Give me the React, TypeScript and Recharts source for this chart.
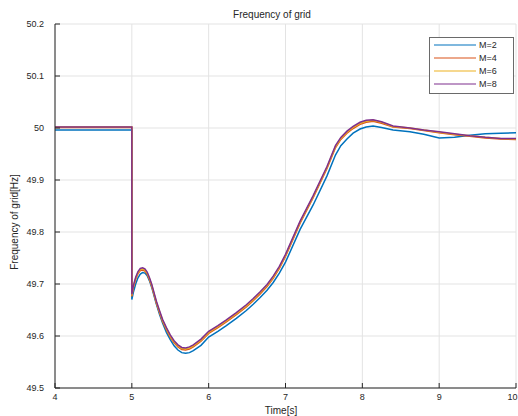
import React from 'react';
import {
  CartesianGrid,
  Customized,
  Line,
  LineChart,
  XAxis,
  YAxis,
} from 'recharts';

// time axis [s]; 5 appears twice for the step drop
const time = [
  4, 5, 5, 5.02, 5.05, 5.08, 5.11, 5.14, 5.17, 5.2, 5.23, 5.26, 5.29, 5.32, 5.36,
  5.4, 5.45, 5.5, 5.55, 5.6, 5.65, 5.7, 5.75, 5.8, 5.9, 6.0, 6.12, 6.23, 6.36, 6.49,
  6.58, 6.67, 6.76, 6.84, 6.92, 7.0, 7.19, 7.36, 7.54, 7.65, 7.72, 7.8, 7.88, 7.97,
  8.05, 8.14, 8.25, 8.4, 8.62, 8.8, 9.0, 9.2, 9.4, 9.6, 9.8, 10,
];

const m2 = [
  49.996, 49.996, 49.67, 49.684, 49.7, 49.712, 49.719, 49.722, 49.721, 49.716,
  49.706, 49.693, 49.677, 49.661, 49.642, 49.625, 49.607, 49.593, 49.581, 49.573,
  49.568, 49.567, 49.568, 49.572, 49.582, 49.598, 49.609, 49.62, 49.634, 49.649,
  49.661, 49.674, 49.688, 49.703, 49.721, 49.742, 49.805, 49.852, 49.908, 49.948,
  49.966, 49.979, 49.99, 49.998, 50.002, 50.004, 50.001, 49.996, 49.993, 49.988,
  49.981, 49.982, 49.986, 49.989, 49.99, 49.991,
];

const m4 = [
  50.001, 50.001, 49.676, 49.693, 49.709, 49.72, 49.726, 49.727, 49.725, 49.719,
  49.708, 49.695, 49.679, 49.663, 49.645, 49.628, 49.612, 49.598, 49.587, 49.579,
  49.574, 49.573, 49.575, 49.579, 49.59, 49.605, 49.616, 49.627, 49.641, 49.656,
  49.668, 49.681, 49.695, 49.711, 49.73, 49.753, 49.817, 49.866, 49.922, 49.962,
  49.978, 49.99, 49.999, 50.007, 50.011, 50.013, 50.009, 50.002, 49.999, 49.995,
  49.991, 49.987, 49.984, 49.981, 49.979, 49.978,
];

const m6 = [
  50.002, 50.002, 49.678, 49.695, 49.711, 49.722, 49.728, 49.729, 49.727, 49.721,
  49.71, 49.697, 49.681, 49.665, 49.647, 49.63, 49.614, 49.6, 49.589, 49.581,
  49.576, 49.575, 49.577, 49.581, 49.592, 49.607, 49.618, 49.629, 49.643, 49.658,
  49.67, 49.683, 49.697, 49.713, 49.732, 49.755, 49.819, 49.868, 49.924, 49.964,
  49.98, 49.992, 50.001, 50.009, 50.013, 50.015, 50.011, 50.003, 50.0, 49.996,
  49.992, 49.988, 49.985, 49.982, 49.98, 49.979,
];

const m8 = [
  50.002, 50.002, 49.68, 49.697, 49.713, 49.724, 49.73, 49.731, 49.729, 49.723,
  49.712, 49.699, 49.683, 49.667, 49.649, 49.632, 49.616, 49.602, 49.591, 49.583,
  49.578, 49.577, 49.579, 49.583, 49.594, 49.609, 49.62, 49.631, 49.645, 49.66,
  49.672, 49.685, 49.699, 49.715, 49.734, 49.757, 49.821, 49.87, 49.926, 49.966,
  49.982, 49.994, 50.003, 50.011, 50.015, 50.016, 50.012, 50.004, 50.0, 49.996,
  49.993, 49.989, 49.985, 49.982, 49.98, 49.98,
];

const xTicks = [4, 5, 6, 7, 8, 9, 10];
const yTicks = [49.5, 49.6, 49.7, 49.8, 49.9, 50, 50.1, 50.2];

const series = [
  { key: 'm2', name: 'M=2', color: '#0072BD', values: m2 },
  { key: 'm4', name: 'M=4', color: '#D95319', values: m4 },
  { key: 'm6', name: 'M=6', color: '#EDB120', values: m6 },
  { key: 'm8', name: 'M=8', color: '#7E2F8E', values: m8 },
];

const data = time.map((t, i) => {
  const row: Record<string, number> = { t };
  series.forEach((s) => {
    row[s.key] = s.values[i];
  });
  return row;
});

const FONT = '"Liberation Sans", Arial, sans-serif';
const TXT = '#262626';
const AXIS = '#262626';

const fmt = (v: number) => String(Number(v.toFixed(1)));

// MATLAB style: tick marks point into the axes
const BottomTick = (props: any) => {
  const { x, y, payload } = props;
  const ay = y - 9;
  const last = payload.value === 10;
  return (
    <g>
      <line x1={x} x2={x} y1={ay} y2={ay - 5} stroke={AXIS} />
      <text
        x={last ? x + 1.5 : x}
        y={y}
        dy="0.35em"
        textAnchor={last ? 'end' : 'middle'}
        fontSize={9}
        fontFamily={FONT}
        fill={TXT}
      >
        {fmt(payload.value)}
      </text>
    </g>
  );
};

const LeftTick = (props: any) => {
  const { x, y, payload } = props;
  const ax = x + 11;
  return (
    <g>
      <line x1={ax} x2={ax + 5} y1={y} y2={y} stroke={AXIS} />
      <text x={x} y={y} dy="0.35em" textAnchor="end" fontSize={9} fontFamily={FONT} fill={TXT}>
        {fmt(payload.value)}
      </text>
    </g>
  );
};

const TopTick = (props: any) => {
  const { x, y } = props;
  return <line x1={x} x2={x} y1={y} y2={y + 5} stroke={AXIS} />;
};

const RightTick = (props: any) => {
  const { x, y } = props;
  return <line x1={x} x2={x - 5} y1={y} y2={y} stroke={AXIS} />;
};

const Decorations = () => (
  <g fontFamily={FONT} fill={TXT}>
    <text x={272} y={14} dy="0.35em" textAnchor="middle" fontSize={10}>
      Frequency of grid
    </text>
    <text x={281} y={410} dy="0.35em" textAnchor="middle" fontSize={10}>
      Time[s]
    </text>
    <text
      x={14}
      y={222}
      dy="0.35em"
      textAnchor="middle"
      fontSize={10}
      transform="rotate(-90 14 222)"
    >
      Frequency of grid[Hz]
    </text>
    <rect x={429.5} y={37.5} width={84} height={56} fill="#fff" stroke="#6a6a6a" />
    {series.map((s, i) => (
      <g key={s.key}>
        <line x1={434} x2={476} y1={45 + i * 13} y2={45 + i * 13} stroke={s.color} strokeWidth={1.2} />
        <text x={479} y={45 + i * 13} dy="0.35em" fontSize={9}>
          {s.name}
        </text>
      </g>
    ))}
  </g>
);

export default function App() {
  return (
    <div style={{ position: 'absolute', left: 0, top: 0, width: 518, height: 416, background: '#fff' }}>
      <LineChart
        width={518}
        height={416}
        data={data}
        margin={{ top: 24, right: 2, bottom: 8, left: 0 }}
      >
        <CartesianGrid xAxisId="b" yAxisId="l" stroke="#e3e3e3" vertical horizontal />
        <XAxis
          xAxisId="b"
          dataKey="t"
          type="number"
          domain={[4, 10]}
          ticks={xTicks}
          allowDataOverflow
          height={20}
          tickSize={0}
          tickMargin={9}
          tickLine={false}
          axisLine={{ stroke: AXIS }}
          tick={<BottomTick />}
          interval={0}
        />
        <XAxis
          xAxisId="top"
          orientation="top"
          dataKey="t"
          type="number"
          domain={[4, 10]}
          ticks={xTicks}
          allowDataOverflow
          height={0}
          tickSize={0}
          tickMargin={0}
          tickLine={false}
          axisLine={{ stroke: AXIS }}
          tick={<TopTick />}
          interval={0}
        />
        <YAxis
          yAxisId="l"
          type="number"
          domain={[49.5, 50.2]}
          ticks={yTicks}
          allowDataOverflow
          width={55}
          tickSize={0}
          tickMargin={11}
          tickLine={false}
          axisLine={{ stroke: AXIS }}
          tick={<LeftTick />}
          interval={0}
        />
        <YAxis
          yAxisId="r"
          orientation="right"
          type="number"
          domain={[49.5, 50.2]}
          ticks={yTicks}
          allowDataOverflow
          width={0}
          tickSize={0}
          tickMargin={0}
          tickLine={false}
          axisLine={{ stroke: AXIS }}
          tick={<RightTick />}
          interval={0}
        />
        {series.map((s) => (
          <Line
            key={s.key}
            xAxisId="b"
            yAxisId="l"
            dataKey={s.key}
            name={s.name}
            type="linear"
            stroke={s.color}
            strokeWidth={1.5}
            dot={false}
            isAnimationActive={false}
          />
        ))}
        <Customized component={Decorations} />
      </LineChart>
    </div>
  );
}
